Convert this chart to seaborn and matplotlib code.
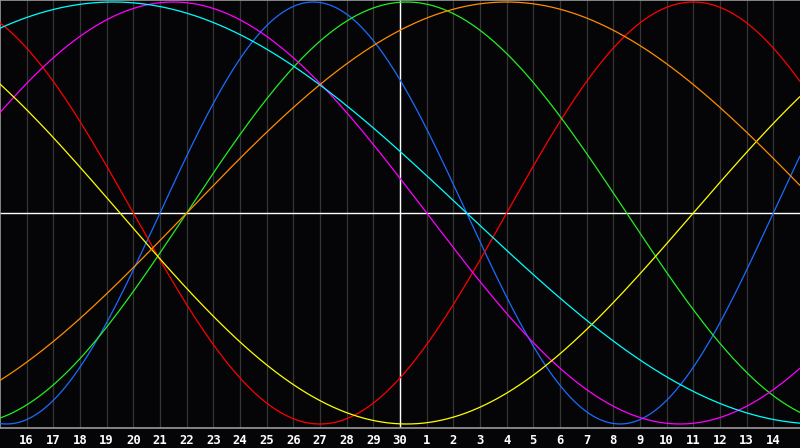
import numpy as np
import pandas as pd
import matplotlib
matplotlib.use("Agg")
import matplotlib.pyplot as plt
import seaborn as sns

# ---- data ----
cycle_names = ["23-day", "28-day", "33-day", "38-day", "43-day", "48-day", "53-day"]
cycle_periods = [23, 28, 33, 38, 43, 48, 53]
# day within each cycle at the left edge of the chart (day 15 of previous month)
cycle_day_at_start = [17, 9, 26, 3, 17, 41, 9]
cycle_colors = ["#1a6cff", "#ff0000", "#22ee22", "#ff00ff", "#ffff00", "#ff8c00", "#00ffff"]

span_days = 30            # chart covers 30 days
today_index = 15          # "30" is today, white vertical line
tick_positions = list(range(1, 30))
tick_labels = [str(d) for d in range(16, 31)] + [str(d) for d in range(1, 15)]

# ---- build long table ----
t = np.linspace(0, span_days, 1201)
rows = []
for name, per, start in zip(cycle_names, cycle_periods, cycle_day_at_start):
    v = np.sin(2 * np.pi * (start + t) / per)
    rows.append(pd.DataFrame({"day": t, "value": v, "cycle": name}))
df = pd.concat(rows, ignore_index=True)

sns.set_theme(style="dark")
bg = "#050508"
fig = plt.figure(figsize=(8, 4.48), dpi=100, facecolor=bg)
ax = fig.add_axes([0, 1 - 428 / 448, 1, 428 / 448])
ax.set_facecolor(bg)

# grid lines
for d in tick_positions:
    ax.axvline(d, color="#353535", lw=0.9, zorder=1)
ax.axhline(0, color="white", lw=1.0, zorder=2)
ax.axvline(today_index, color="white", lw=1.0, zorder=2)

sns.lineplot(data=df, x="day", y="value", hue="cycle",
             palette=dict(zip(cycle_names, cycle_colors)),
             estimator=None, sort=False, lw=0.9, legend=False, ax=ax, zorder=3)

ax.set_xlim(0, span_days)
ax.set_ylim(-1.019, 1.0095)
ax.set_xticks(tick_positions)
ax.set_xticklabels(tick_labels, color="white", fontsize=8.8,
                   family="DejaVu Sans Mono", fontweight="bold")
ax.set_yticks([])
ax.tick_params(axis="x", length=0, pad=4)
ax.set_xlabel("")
ax.set_ylabel("")
ax.grid(False)
for s in ["left", "top", "bottom"]:
    ax.spines[s].set_visible(True)
    ax.spines[s].set_color("#9a9a9a")
    ax.spines[s].set_linewidth(1.2)
ax.spines["right"].set_visible(False)

fig.savefig("out.png", dpi=100, facecolor=bg)
